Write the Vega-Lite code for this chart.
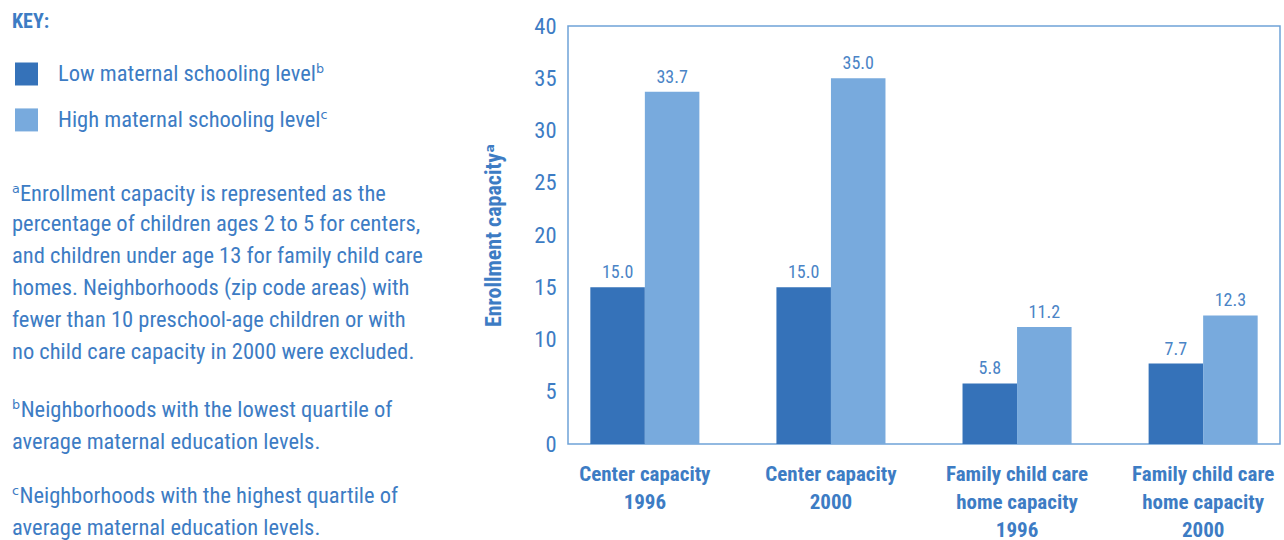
{
  "$schema": "https://vega.github.io/schema/vega-lite/v6.json",
  "background": "white",
  "padding": {"left": 0, "top": 12, "right": 0, "bottom": 0},
  "spacing": 52,
  "config": {
    "font": "Liberation Sans Narrow, Roboto Condensed, DejaVu Sans Condensed, sans-serif",
    "view": {"stroke": null}
  },
  "hconcat": [
    {
      "width": 430,
      "height": 512,
      "data": {"values": [
        {"kind": "key", "line": 0, "text": "KEY:", "series": ""},
        {"kind": "legend", "line": 1.625, "text": "Low maternal schooling levelᵇ", "series": "Low maternal schooling level"},
        {"kind": "legend", "line": 3.06, "text": "High maternal schooling levelᶜ", "series": "High maternal schooling level"},
        {"kind": "note", "line": 5.375, "text": "ᵃEnrollment capacity is represented as the", "series": ""},
        {"kind": "note", "line": 6.31, "text": "percentage of children ages 2 to 5 for centers,", "series": ""},
        {"kind": "note", "line": 7.31, "text": "and children under age 13 for family child care", "series": ""},
        {"kind": "note", "line": 8.31, "text": "homes.  Neighborhoods (zip code areas) with", "series": ""},
        {"kind": "note", "line": 9.31, "text": "fewer than 10 preschool-age children or with", "series": ""},
        {"kind": "note", "line": 10.31, "text": "no child care capacity in 2000 were excluded.", "series": ""},
        {"kind": "note", "line": 12.125, "text": "ᵇNeighborhoods with the lowest quartile of", "series": ""},
        {"kind": "note", "line": 13.125, "text": "average maternal education levels.", "series": ""},
        {"kind": "note", "line": 14.81, "text": "ᶜNeighborhoods with the highest quartile of", "series": ""},
        {"kind": "note", "line": 15.81, "text": "average maternal education levels.", "series": ""}
      ]},
      "encoding": {
        "y": {"field": "line", "type": "quantitative", "scale": {"domain": [0.125, 16.125], "reverse": true}, "axis": null}
      },
      "layer": [
        {
          "transform": [{"filter": "datum.kind == 'key'"}],
          "mark": {"type": "text", "align": "left", "baseline": "middle", "fontSize": 20, "fontWeight": "bold", "color": "#3d7cc4"},
          "encoding": {"x": {"value": 12}, "text": {"field": "text"}}
        },
        {
          "transform": [{"filter": "datum.kind == 'legend'"}],
          "mark": {"type": "square", "opacity": 1, "filled": true},
          "encoding": {
            "x": {"value": 26.5},
            "size": {"value": 529},
            "color": {"field": "series", "type": "nominal", "legend": null,
              "scale": {"domain": ["Low maternal schooling level", "High maternal schooling level"], "range": ["#3572b9", "#78aadd"]}}
          }
        },
        {
          "transform": [{"filter": "datum.kind == 'legend'"}],
          "mark": {"type": "text", "align": "left", "baseline": "middle", "fontSize": 22.5, "color": "#3d7cc4"},
          "encoding": {"x": {"value": 58}, "text": {"field": "text"}}
        },
        {
          "transform": [{"filter": "datum.kind == 'note'"}],
          "mark": {"type": "text", "align": "left", "baseline": "middle", "fontSize": 22.5, "color": "#3d7cc4"},
          "encoding": {"x": {"value": 12}, "text": {"field": "text"}}
        }
      ]
    },
    {
      "width": 712,
      "height": 418,
      "view": {"stroke": "#6fa2d8", "strokeWidth": 1.5},
      "data": {"values": [
        {"cat": "Center capacity|1996", "series": "Low maternal schooling level", "value": 15.0},
        {"cat": "Center capacity|1996", "series": "High maternal schooling level", "value": 33.7},
        {"cat": "Center capacity|2000", "series": "Low maternal schooling level", "value": 15.0},
        {"cat": "Center capacity|2000", "series": "High maternal schooling level", "value": 35.0},
        {"cat": "Family child care|home capacity|1996", "series": "Low maternal schooling level", "value": 5.8},
        {"cat": "Family child care|home capacity|1996", "series": "High maternal schooling level", "value": 11.2},
        {"cat": "Family child care|home capacity|2000", "series": "Low maternal schooling level", "value": 7.7},
        {"cat": "Family child care|home capacity|2000", "series": "High maternal schooling level", "value": 12.3}
      ]},
      "encoding": {
        "x": {
          "field": "cat", "type": "nominal", "sort": null,
          "scale": {"paddingInner": 0.414, "paddingOuter": 0.12},
          "axis": {
            "title": null, "labelAngle": 0, "domain": false, "ticks": false,
            "labelExpr": "split(datum.value, '|')",
            "labelFontSize": 21, "labelFontWeight": "bold", "labelColor": "#3d7cc4",
            "labelPadding": 19, "labelLineHeight": 28, "labelBaseline": "top"
          }
        },
        "xOffset": {
          "field": "series", "type": "nominal",
          "scale": {"domain": ["Low maternal schooling level", "High maternal schooling level"], "paddingInner": 0, "paddingOuter": 0}
        },
        "y": {
          "field": "value", "type": "quantitative",
          "scale": {"domain": [0, 40], "nice": false},
          "axis": {
            "title": "Enrollment capacityᵃ", "titleFontSize": 22, "titleFontWeight": "bold", "titleColor": "#3d7cc4", "titlePadding": 28,
            "values": [0, 5, 10, 15, 20, 25, 30, 35, 40],
            "grid": false, "domain": false, "ticks": false,
            "labelFontSize": 22.5, "labelColor": "#3d7cc4", "labelPadding": 12
          }
        }
      },
      "layer": [
        {
          "mark": {"type": "bar"},
          "encoding": {
            "color": {"field": "series", "type": "nominal", "legend": null,
              "scale": {"domain": ["Low maternal schooling level", "High maternal schooling level"], "range": ["#3572b9", "#78aadd"]}}
          }
        },
        {
          "mark": {"type": "text", "baseline": "bottom", "dy": -5, "fontSize": 18, "color": "#4a84c6"},
          "encoding": {"text": {"field": "value", "type": "quantitative", "format": ".1f"}}
        }
      ]
    }
  ]
}
